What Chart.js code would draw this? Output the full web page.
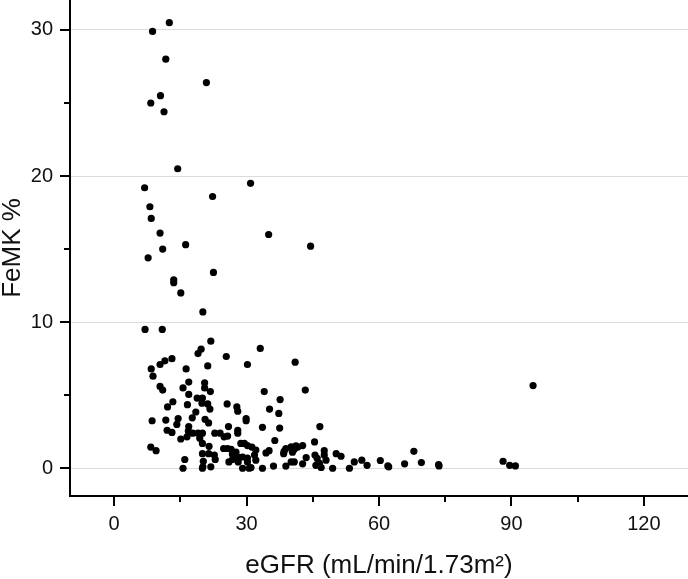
<!DOCTYPE html>
<html>
<head>
<meta charset="utf-8">
<script src="https://cdn.jsdelivr.net/npm/chart.js@4/dist/chart.umd.min.js"></script>
<style>
  html, body { margin: 0; padding: 0; background: #fff; }
</style>
</head>
<body>
<canvas id="myChart" width="688" height="579"></canvas>
<script>
// eGFR (x) and FeMK % (y)
const egfr = [
  12.5, 8.7, 11.7, 20.9, 10.5, 8.3, 11.3, 14.4, 6.9, 30.9,
  22.3, 8.1, 8.4, 10.4, 35.0, 16.2, 11.0, 44.5, 7.7, 22.5,
  13.5, 13.5, 15.1, 20.1, 7.0, 10.9, 21.9, 19.7, 19.0, 33.1,
  25.4, 30.2, 41.0, 13.1, 11.5, 10.4, 8.4, 8.8, 16.3, 21.2,
  16.9, 20.5, 20.5, 21.8, 15.6, 16.9, 10.4, 11.0, 18.8, 20.0,
  13.3, 19.9, 21.2, 16.6, 12.1, 25.6, 27.8, 28.0, 21.7, 18.5,
  29.9, 29.9, 8.6, 11.7, 14.5, 14.2, 17.7, 20.6, 21.4, 25.9,
  28.0, 28.0, 12.0, 13.1, 16.9, 16.8, 17.8, 19.0, 20.0, 16.5,
  15.1, 19.4, 22.8, 24.0, 24.9, 25.7, 20.0, 21.5, 8.3, 9.5,
  24.8, 26.5, 27.6, 28.7, 30.2, 26.8, 28.0, 29.1, 30.2, 26.0,
  28.1, 30.2, 20.0, 20.2, 22.7, 22.9, 16.0, 15.6, 20.1, 21.9,
  29.1, 30.6, 21.4, 34.0, 37.6, 43.3, 35.2, 37.3, 33.6, 37.5,
  46.6, 36.4, 45.4, 29.5, 31.2, 32.1, 31.8, 32.1, 31.0, 33.6,
  36.1, 34.4, 35.1, 38.5, 38.9, 38.4, 40.4, 40.8, 41.6, 42.7,
  38.9, 40.1, 40.8, 42.7, 43.5, 45.5, 46.0, 46.5, 46.9, 47.6,
  47.6, 48.0, 45.7, 50.3, 51.4, 49.5, 53.3, 54.4, 56.1, 57.3,
  60.3, 62.0, 62.2, 65.8, 67.9, 69.6, 73.5, 73.6, 88.1, 89.6,
  90.9, 94.9, 40.1, 41.2, 25.7, 27.2, 26.8, 20.0
];
const femk = [
  30.5, 29.9, 28.0, 26.4, 25.5, 25.0, 24.4, 20.5, 19.2, 19.5,
  18.6, 17.9, 17.1, 16.1, 16.0, 15.3, 15.0, 15.2, 14.4, 13.4,
  12.9, 12.7, 12.0, 10.7, 9.5, 9.5, 8.7, 8.15, 7.85, 8.2,
  7.65, 7.1, 7.26, 7.5, 7.35, 7.1, 6.8, 6.3, 6.8, 7.0,
  5.9, 5.85, 5.5, 5.25, 5.5, 5.05, 5.6, 5.35, 4.8, 4.8,
  4.55, 4.45, 4.4, 4.35, 4.2, 4.4, 4.2, 3.9, 4.05, 3.85,
  3.4, 3.25, 3.25, 3.3, 3.4, 3.0, 3.45, 3.35, 3.1, 2.85,
  2.6, 2.4, 2.6, 2.45, 2.85, 2.55, 2.4, 2.4, 2.4, 2.15,
  2.0, 2.05, 2.4, 2.4, 2.15, 2.2, 1.7, 1.5, 1.45, 1.2,
  1.35, 1.3, 1.1, 1.7, 1.55, 0.95, 0.77, 0.77, 0.7, 0.43,
  0.43, 0.43, 1.0, 0.48, 0.9, 0.6, 0.6, 0.0, 0.1, 0.1,
  0.0, 0.0, 1.0, 5.25, 4.7, 5.35, 4.05, 3.75, 2.8, 2.75,
  2.85, 1.9, 1.8, 1.7, 1.45, 1.25, 0.9, 0.55, 0.05, 0.0,
  0.15, 1.05, 1.2, 1.15, 1.35, 1.0, 1.1, 1.3, 1.45, 1.55,
  0.15, 0.43, 0.43, 0.3, 0.73, 0.9, 0.67, 0.33, 0.05, 1.2,
  0.9, 0.55, 0.2, 1.0, 0.82, 0.0, 0.0, 0.43, 0.55, 0.2,
  0.53, 0.16, 0.1, 0.3, 1.16, 0.39, 0.25, 0.16, 0.48, 0.2,
  0.16, 5.66, 1.46, 1.53, 1.35, 1.0, 0.6, 0.0
];
const xTicks = [0, 30, 60, 90, 120];
const xMinor = [15, 45, 75, 105];
const yTicks = [0, 10, 20, 30];
const yMinor = [5, 15, 25];

const points = egfr.map((x, i) => ({ x: x, y: femk[i] }));

// outward tick marks, long for labelled values, short in between
const tickMarks = {
  id: 'tickMarks',
  afterDraw(chart) {
    const { ctx, chartArea } = chart;
    const xs = chart.scales.x, ys = chart.scales.y;
    ctx.save();
    ctx.strokeStyle = '#000';
    ctx.lineWidth = 2;
    ctx.beginPath();
    xTicks.concat(xMinor).forEach(v => {
      const p = Math.round(xs.getPixelForValue(v));
      const len = xTicks.includes(v) ? 10 : 6;
      ctx.moveTo(p, chartArea.bottom);
      ctx.lineTo(p, chartArea.bottom + len);
    });
    yTicks.concat(yMinor).forEach(v => {
      const p = Math.round(ys.getPixelForValue(v));
      const len = yTicks.includes(v) ? 10 : 6;
      ctx.moveTo(chartArea.left, p);
      ctx.lineTo(chartArea.left - len, p);
    });
    ctx.stroke();
    ctx.restore();
  }
};

const ctx = document.getElementById('myChart').getContext('2d');
const myChart = new Chart(ctx, {
  type: 'scatter',
  data: {
    datasets: [{
      data: points,
      backgroundColor: '#000',
      borderWidth: 0,
      pointRadius: 3.6
    }]
  },
  options: {
    responsive: false,
    animation: false,
    devicePixelRatio: 1,
    layout: { padding: 0, autoPadding: false },
    scales: {
      x: {
        type: 'linear',
        min: -10,
        max: 130,
        afterBuildTicks: s => { s.ticks = xTicks.map(v => ({ value: v })); },
        afterFit: s => {
          s.height = 83;
          s.paddingLeft = 0;
          s.paddingRight = 0;
        },
        grid: { drawOnChartArea: false, drawTicks: false },
        border: { display: true, color: '#000', width: 2 },
        ticks: {
          padding: 16,
          color: '#111',
          font: { family: 'Liberation Sans, Arial', size: 20 }
        },
        title: {
          display: true,
          text: 'eGFR (mL/min/1.73m²)',
          color: '#111',
          padding: 0,
          font: { family: 'Liberation Sans, Arial', size: 26, lineHeight: 1 }
        }
      },
      y: {
        min: -1.9,
        max: 32.05,
        afterBuildTicks: s => { s.ticks = yTicks.map(v => ({ value: v })); },
        afterFit: s => {
          s.width = 70;
          s.paddingTop = 0;
          s.paddingBottom = 0;
        },
        grid: { color: '#dcdcdc', lineWidth: 1, drawTicks: false },
        border: { display: true, color: '#000', width: 2 },
        ticks: {
          padding: 17,
          color: '#111',
          font: { family: 'Liberation Sans, Arial', size: 20 }
        },
        title: {
          display: true,
          text: 'FeMK %',
          color: '#111',
          padding: 0,
          font: { family: 'Liberation Sans, Arial', size: 26, lineHeight: 1 }
        }
      }
    },
    plugins: {
      legend: { display: false },
      tooltip: { enabled: false }
    }
  },
  plugins: [tickMarks]
});
</script>
</body>
</html>
